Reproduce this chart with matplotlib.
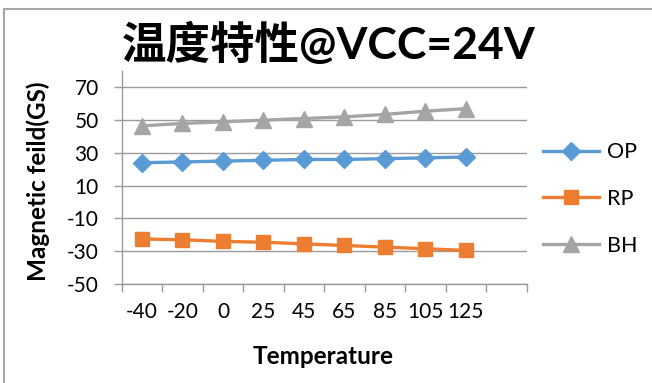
import matplotlib
matplotlib.use("Agg")
import matplotlib.pyplot as plt
from matplotlib.lines import Line2D
import numpy as np

plt.rcParams['font.family'] = ['Lato', 'Noto Sans CJK SC', 'DejaVu Sans']
plt.rcParams['axes.unicode_minus'] = False

temps = ["-40", "-20", "0", "25", "45", "65", "85", "105", "125"]
op = [24, 24.5, 25, 25.5, 26, 26, 26.5, 27, 27.5]
rp = [-22.5, -23, -24, -24.5, -25.5, -26.5, -27.5, -28.5, -29.5]
bh = [46.5, 48, 49, 50, 51, 52, 53.5, 55.5, 57]

W, H = 652, 383
fig = plt.figure(figsize=(W / 100, H / 100), dpi=100)

# plot area in pixels
left, right, top, bottom = 121.7, 526.7, 71, 284
ax = fig.add_axes([left / W, 1 - bottom / H, (right - left) / W, (bottom - top) / H])

x = np.arange(len(temps))
ax.plot(x, op, color="#5B9BD5", lw=2.4, marker="D", ms=9, label="OP")
ax.plot(x, rp, color="#ED7D31", lw=2.4, marker="s", ms=10, label="RP")
ax.plot(x, bh, color="#A5A5A5", lw=2.4, marker="^", ms=11, label="BH")

ax.set_xlim(-0.5, 9.5)
ax.set_ylim(-50, 80)
ax.set_yticks(np.arange(-50, 71, 20))
ax.set_xticks(x)
ax.set_xticklabels(temps)
ax.set_xticks(np.arange(-0.5, 10, 1), minor=True)
ax.tick_params(axis="x", which="major", length=0, pad=13, labelsize=15)
ax.tick_params(axis="x", which="minor", length=5.5, width=1, color="#9a9a9a", direction="out")
ax.tick_params(axis="y", length=5.5, width=1, color="#9a9a9a", pad=11, labelsize=15)
ax.grid(axis="y", color="#9a9a9a", lw=1)
ax.set_axisbelow(True)
for s in ["top", "right"]:
    ax.spines[s].set_visible(False)
for s in ["left", "bottom"]:
    ax.spines[s].set_color("#9a9a9a")
    ax.spines[s].set_linewidth(1)

fig.text(329 / W, 1 - 44 / H, "温度特性@VCC=24V", fontsize=32, fontweight="bold",
         ha="center", va="center")
fig.text(38 / W, 1 - 181 / H, "Magnetic feild(GS)", fontsize=17.5, fontweight="bold",
         rotation=90, ha="center", va="center")
fig.text(323 / W, 1 - 357 / H, "Temperature", fontsize=17.5, fontweight="bold",
         ha="center", va="center")

fig.legend(loc="center left", bbox_to_anchor=(543 / W, 1 - 199 / H), frameon=False,
           fontsize=15.5, handlelength=2.6, labelspacing=1.25, handletextpad=0.35,
           borderaxespad=0, borderpad=0)

# chart border
fig.add_artist(Line2D([4 / W, 4 / W], [0, 1 - 9 / H], color="#a6a6a6", lw=1.5))
fig.add_artist(Line2D([4 / W, 1], [1 - 9 / H, 1 - 9 / H], color="#a6a6a6", lw=1.5))

fig.savefig("out.png", dpi=100)
